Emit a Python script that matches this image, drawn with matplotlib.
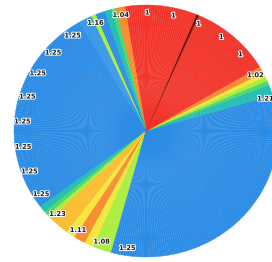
import numpy as np
import matplotlib
matplotlib.use('Agg')
import matplotlib.pyplot as plt
import matplotlib.patheffects as pe

# ---------------------------- DATA ----------------------------
# The pie is made of equal thin slices, grouped in colour bands,
# listed counter-clockwise starting at 3 o'clock
band_names = ['blue', 'teal', 'green', 'lime', 'yellow', 'orange', 'red', 'dark', 'red',
              'orange', 'green', 'teal', 'blue', 'lime', 'lightblue', 'blue',
              'teal', 'green', 'lime', 'amber', 'yellow', 'orange', 'yellow', 'lime', 'blue']
band_slices = [16, 5, 2, 2, 2, 3, 35, 1, 31,
               4, 2, 3, 4, 2, 6, 94,
               3, 2, 2, 9, 4, 5, 4, 8, 103]

# Value labels, one every 12th slice (starting at slice 15), '' = not shown
label_texts = ['1.21', '1.02', '1', '1', '1', '1', '1', '1.04', '1.16',
               '1.25', '1.25', '1.25', '1.25', '1.25', '1.25', '1.25', '1.25',
               '1.23', '1.11', '1.08', '1.25',
               '', '', '', '', '', '', '', '']
label_first = 15
label_step = 12

# ---------------------------- STYLE ----------------------------
palette = {
    'blue': '#2b8ce6',
    'lightblue': '#3898e8',
    'teal': '#22bdb2',
    'green': '#4ed66c',
    'lime': '#aaee3c',
    'yellow': '#f4e63a',
    'amber': '#fbbd2e',
    'orange': '#f98a2c',
    'red': '#f2342a',
    'dark': '#5a100b',
}

# expand the bands into single slices
slice_colors = [palette[c] for c, n in zip(band_names, band_slices) for _ in range(n)]
slice_sizes = np.repeat(1, sum(band_slices))
slice_labels = [''] * len(slice_sizes)
for k, txt in enumerate(label_texts):
    slice_labels[label_first + k * label_step] = txt

# ---------------------------- PLOT ----------------------------
fig = plt.figure(figsize=(2.72, 2.62), dpi=100)
ax = fig.add_axes([0, 0, 1, 1])

wedges, texts = ax.pie(slice_sizes, colors=slice_colors, labels=slice_labels,
                       startangle=0, counterclock=True, labeldistance=0.94,
                       wedgeprops=dict(linewidth=0.25),
                       textprops=dict(fontsize=4.8, color='#1a1a1a', fontweight='bold'))

# edge in the same colour as the slice, hides the hairline gaps
for w in wedges:
    w.set_edgecolor(w.get_facecolor())

for t in texts:
    t.set_ha('center')
    t.set_va('center')
    t.set_path_effects([pe.withStroke(linewidth=1.4, foreground='white')])

# slightly wider than tall, centre a bit right of middle, right side cut off
ax.set_aspect('auto')
ax.set_xlim(-146 / 132, 126 / 132)
ax.set_ylim(-131 / 126, 131 / 126)
ax.axis('off')

fig.savefig('out.png', dpi=100)
